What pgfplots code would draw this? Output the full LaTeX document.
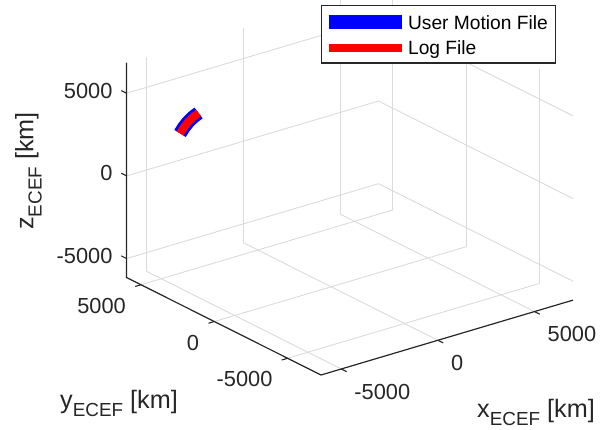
\documentclass[border=0pt]{standalone}
\usepackage{pgfplots}
\pgfplotsset{compat=1.18}
\usepackage{fontspec}
\setmainfont{Liberation Sans}
\definecolor{axgray}{gray}{0.15}
\begin{document}
\begin{tikzpicture}
\begin{axis}[
  x={(0.01932pt,0.00573pt)},
  y={(-0.01466pt,0.00735pt)},
  z={(0pt,0.01653pt)},
  xmin=-6050, xmax=6990,
  ymin=-7278, ymax=5982,
  zmin=-6149, zmax=6850,
  xtick={-5000,0,5000}, ytick={-5000,0,5000}, ztick={-5000,0,5000},
  grid=major,
  major grid style={draw=black!14, line width=0.9pt},
  axis line style={draw=none},
  major tick length=0pt,
  clip=false,
  /pgf/number format/assume math mode=true,
  /pgf/number format/1000 sep={},
  ticklabel style={font=\fontsize{21.8}{24}\selectfont, inner sep=0pt, text=axgray},
  xticklabel style={anchor=north west, xshift=13pt, yshift=-15pt},
  yticklabel style={anchor=east, xshift=-15pt, yshift=-21pt},
  zticklabel style={anchor=east, xshift=-14pt, yshift=2.6pt},
  every axis x label/.style={at={([xshift=156pt,yshift=-42.3pt]rel axis cs:0,0,0)}, anchor=base west, font=\fontsize{25.2}{28}\selectfont, inner sep=0pt, text=axgray},
  every axis y label/.style={at={([xshift=-261pt,yshift=-33pt]rel axis cs:0,0,0)}, anchor=base west, font=\fontsize{25.2}{28}\selectfont, inner sep=0pt, text=axgray},
  every axis z label/.style={at={([xshift=-287.7pt,yshift=145pt]rel axis cs:0,0,0)}, anchor=base west, rotate=90, font=\fontsize{25.2}{28}\selectfont, inner sep=0pt, text=axgray},
  xlabel={x\raisebox{-8.4pt}{\fontsize{18.9}{19}\selectfont ECEF} [km]},
  ylabel={y\raisebox{-8.4pt}{\fontsize{18.9}{19}\selectfont ECEF} [km]},
  zlabel={z\raisebox{-8.4pt}{\fontsize{18.9}{19}\selectfont ECEF} [km]},
  legend style={at={([yshift=370pt]rel axis cs:0,0,0)}, anchor=north west,
    draw=axgray, line width=1.2pt, fill=white,
    font=\fontsize{19.2}{22}\selectfont,
    inner xsep=0.5pt, inner ysep=7.5pt, row sep=9.5pt, column sep=-0.5pt,
    cells={anchor=west},
    nodes={inner sep=0pt}},
  legend image code/.code={\draw[#1] (0pt,0pt) -- (73pt,0pt);},
]
\addplot3[blue, line width=13.5pt] coordinates {
  (-4145,4845,2412) (-3925.5,4877.5,2688) (-3697.4,4882.9,2934)
  (-3459.9,4861.1,3153) (-3213.5,4811.5,3343)};
\addlegendentry{\rule{0pt}{16pt}\makebox[147pt][l]{User Motion File}}
\addplot3[red, line width=8pt] coordinates {
  (-4145,4845,2412) (-3925.5,4877.5,2688) (-3697.4,4882.9,2934)
  (-3459.9,4861.1,3153) (-3213.5,4811.5,3343)};
\addlegendentry{Log File}
% axis lines
\draw[axgray, line width=1.2pt] (axis cs:-6050,5982,6850) -- (axis cs:-6050,5982,-6149) -- (axis cs:-6050,-7278,-6149) -- (axis cs:6990,-7278,-6149);
% tick marks
\draw[axgray, line width=1.1pt]
  (axis cs:-5000,-7278,-6149) -- (axis cs:-5000,-7641,-6149)
  (axis cs:0,-7278,-6149) -- (axis cs:0,-7641,-6149)
  (axis cs:5000,-7278,-6149) -- (axis cs:5000,-7641,-6149)
  (axis cs:-6050,-5000,-6149) -- (axis cs:-6350,-5000,-6149)
  (axis cs:-6050,0,-6149) -- (axis cs:-6350,0,-6149)
  (axis cs:-6050,5000,-6149) -- (axis cs:-6350,5000,-6149)
  (axis cs:-6050,5982,-5000) -- (axis cs:-6050,6345,-5000)
  (axis cs:-6050,5982,0) -- (axis cs:-6050,6345,0)
  (axis cs:-6050,5982,5000) -- (axis cs:-6050,6345,5000);
\coordinate (C) at (axis cs:-6050,-7278,-6149);
\end{axis}
\pgfresetboundingbox
\path[use as bounding box] (C) ++(-321pt,-54pt) rectangle ++(610pt,429pt);
\end{tikzpicture}
\end{document}
